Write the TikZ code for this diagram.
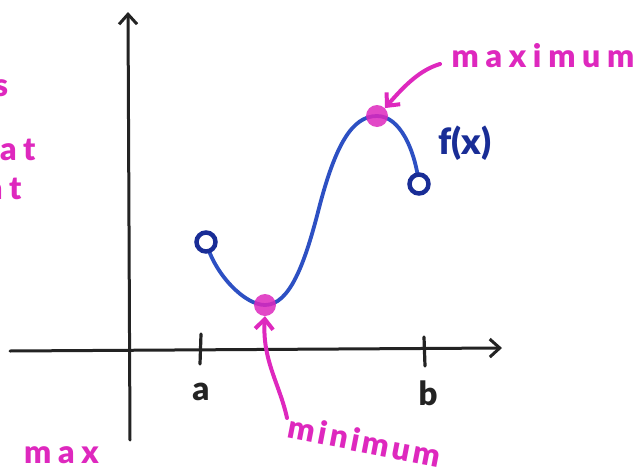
\documentclass[tikz,border=0pt]{standalone}
\usepackage{fontspec}
\setmainfont{Lato}
\newfontfamily\hand[LetterSpace=21]{Lato Black}
\newfontfamily\handm[LetterSpace=10]{Lato Black}
\newfontfamily\handb{Lato Black}
\usetikzlibrary{arrows.meta}
\definecolor{mag}{RGB}{222,40,190}
\definecolor{curveblue}{RGB}{45,80,195}
\definecolor{darkblue}{RGB}{25,45,150}
\definecolor{axisgray}{RGB}{35,35,35}
\tikzset{
  axis/.style={draw=axisgray, line width=3pt, line cap=round, -{Straight Barb[length=10pt,width=18pt,line width=3pt]}},
  tick/.style={draw=axisgray, line width=3.2pt, line cap=round},
  fcurve/.style={draw=curveblue, line width=3.8pt, line cap=round},
  openpt/.style={circle, draw=darkblue, line width=4.5pt, fill=white, minimum size=19pt, inner sep=0pt},
  extpt/.style={circle, fill=mag, fill opacity=0.85, minimum size=22pt, inner sep=0pt},
  maglabel/.style={text=mag, font=\hand\fontsize{32}{32}\selectfont, inner sep=0pt},
  ticklabel/.style={text=axisgray, font=\handb\fontsize{33}{33}\selectfont, inner sep=0pt},
  magarrow/.style={draw=mag, line width=4pt, line cap=round, -{Straight Barb[length=10pt,width=18pt,line width=4pt]}}
}
\begin{document}
\begin{tikzpicture}[x=1pt,y=-1pt]
\useasboundingbox (0,0) rectangle (638,474);
\clip (0,0) rectangle (638,474);
\fill[white] (0,0) rectangle (638,474);
% axes
\coordinate (yb) at (130,440);
\coordinate (yt) at (128,12);
\coordinate (xl) at (10,351);
\coordinate (xr) at (502,348);
\draw[axis] (yb) -- (yt);
\draw[axis] (xl) -- (xr);
% ticks
\coordinate (ta1) at (201,334);
\coordinate (ta2) at (200,364);
\coordinate (tb1) at (424,337);
\coordinate (tb2) at (425,366);
\draw[tick] (ta1) -- (ta2);
\draw[tick] (tb1) -- (tb2);
\node[ticklabel] (la) at (201,392) {a};
\node[ticklabel] (lb) at (428,393) {b};
% curve
\coordinate (A) at (206,242);
\coordinate (mn) at (265,305);
\coordinate (mx) at (377,116);
\coordinate (B) at (419,184);
\draw[fcurve] (A) .. controls (215,275) and (245,305) .. (mn)
  .. controls (290,305) and (305,262) .. (318,212)
  .. controls (335,145) and (352,116) .. (mx)
  .. controls (400,116) and (415,150) .. (B);
\node[openpt] (oA) at (A) {};
\node[openpt] (oB) at (B) {};
\node[extpt] (dmin) at (mn) {};
\node[extpt] (dmax) at (mx) {};
\node[text=darkblue, font=\handb\fontsize{36}{36}\selectfont, inner sep=0pt] (fx) at (465,143) {f(x)};
% labels
\node[maglabel] (lmax) at (543,56) {maximum};
\node[maglabel, font=\handm\fontsize{32}{32}\selectfont, rotate=-11] (lmin) at (365,441) {minimum};
\coordinate (maxstart) at (440,64);
\draw[magarrow] (maxstart) .. controls (420,70) and (405,85) .. (dmax.north east);
\coordinate (minstart) at (287,418);
\draw[magarrow] (minstart) .. controls (280,385) and (262,360) .. (dmin.south);
% cropped text at left edge
\node[maglabel, anchor=center] (ls) at (1,88) {s};
\node[maglabel, anchor=west] (lat1) at (0,150) {at};
\node[maglabel, anchor=west] (lat2) at (-14,189) {at};
\node[maglabel, anchor=west] (lmx) at (24,455) {max};
\end{tikzpicture}
\end{document}
